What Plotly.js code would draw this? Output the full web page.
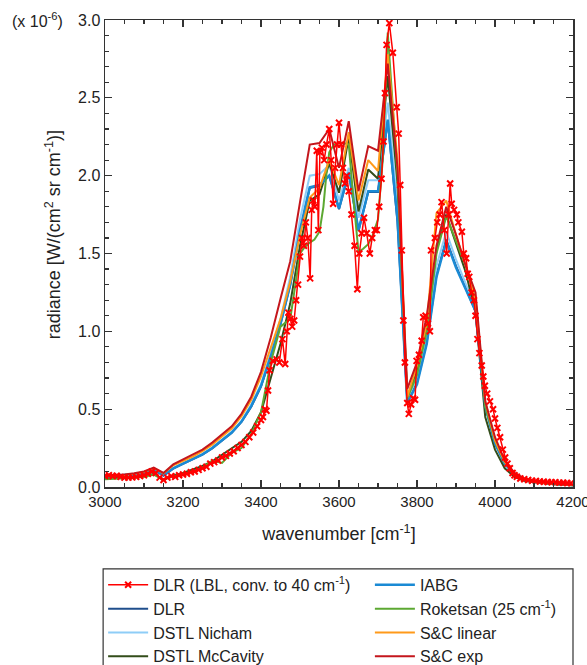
<!DOCTYPE html>
<html>
<head>
<meta charset="utf-8">
<script src="https://cdn.plot.ly/plotly-3.0.1.min.js"></script>
<style>html,body{margin:0;padding:0;background:#fff;}#chart{width:587px;height:665px;}</style>
</head>
<body>
<div id="chart"></div>
<script>
// wavenumber grid of the model spectra (cm-1)
const modelX = [3000,3025,3050,3075,3100,3125,3150,3175,3200,3225,3250,3275,3300,3325,3350,3375,3400,3425,3450,3475,3500,3525,3550,3575,3600,3625,3650,3675,3700,3725,3750,3775,3800,3825,3850,3875,3900,3925,3950,3975,4000,4025,4050,4075,4100,4125,4150,4175,4200];

// radiance values in units of 1e-6 W/(cm2 sr cm-1)
const dlr = [0.068,0.070,0.073,0.078,0.088,0.112,0.072,0.118,0.148,0.178,0.208,0.248,0.298,0.348,0.418,0.515,0.645,0.835,1.045,1.30,1.64,1.92,1.935,2.0,1.785,2.015,1.645,1.895,1.895,2.35,1.70,0.55,0.67,0.93,1.36,1.59,1.42,1.28,1.13,0.52,0.28,0.15,0.08,0.05,0.035,0.027,0.02,0.016,0.013];
const dstlNicham = [0.072,0.074,0.077,0.082,0.092,0.117,0.077,0.122,0.152,0.183,0.213,0.253,0.305,0.355,0.425,0.53,0.66,0.86,1.08,1.35,1.72,2.00,2.01,2.07,1.84,2.05,1.73,1.97,1.97,2.47,1.80,0.56,0.70,0.97,1.42,1.64,1.46,1.31,1.15,0.53,0.29,0.155,0.082,0.05,0.036,0.027,0.02,0.016,0.013];
const dstlMcCavity = [0.055,0.057,0.058,0.062,0.068,0.085,0.048,0.075,0.090,0.110,0.135,0.165,0.205,0.245,0.29,0.36,0.48,0.70,0.92,1.18,1.55,1.84,1.88,2.08,1.89,2.25,1.77,2.04,1.98,2.64,1.95,0.58,0.74,1.03,1.52,1.75,1.56,1.38,1.12,0.45,0.24,0.12,0.065,0.04,0.03,0.022,0.018,0.015,0.012];
const iabg = [0.070,0.072,0.075,0.080,0.090,0.115,0.075,0.120,0.150,0.180,0.210,0.250,0.300,0.350,0.420,0.52,0.65,0.84,1.05,1.30,1.65,1.925,1.94,2.0,1.79,2.02,1.65,1.90,1.90,2.36,1.72,0.54,0.66,0.92,1.35,1.58,1.41,1.27,1.13,0.52,0.28,0.15,0.08,0.05,0.035,0.027,0.02,0.016,0.013];
const scLinear = [0.072,0.075,0.077,0.085,0.097,0.122,0.088,0.140,0.168,0.195,0.230,0.272,0.325,0.375,0.455,0.56,0.71,0.89,1.08,1.32,1.62,1.86,1.92,2.10,1.94,2.28,1.84,2.10,2.03,2.78,2.10,0.58,0.78,1.05,1.76,1.84,1.62,1.42,1.20,0.55,0.30,0.16,0.085,0.052,0.037,0.028,0.021,0.017,0.014];
const scExp = [0.075,0.078,0.080,0.088,0.100,0.125,0.090,0.145,0.175,0.205,0.240,0.285,0.335,0.390,0.470,0.58,0.74,0.96,1.21,1.45,1.83,2.20,2.21,2.30,2.05,2.35,1.90,2.19,2.16,2.72,2.05,0.63,0.80,1.10,1.55,1.80,1.62,1.42,1.25,0.55,0.32,0.17,0.09,0.055,0.04,0.03,0.022,0.018,0.015];

// Roketsan (25 cm-1 resolution)
const roketsanX = [3000,3025,3050,3075,3100,3125,3150,3175,3200,3225,3250,3275,3300,3325,3350,3375,3400,3425,3450,3475,3500,3512,3525,3537,3550,3560,3568,3575,3587,3600,3612,3625,3637,3650,3662,3675,3687,3700,3712,3725,3750,3775,3800,3825,3850,3875,3900,3925,3950,3975,4000,4025,4050,4075,4100,4125,4150,4175,4200];
const roketsan = [0.050,0.052,0.055,0.060,0.065,0.080,0.045,0.070,0.085,0.100,0.125,0.170,0.155,0.220,0.250,0.34,0.48,0.80,1.03,1.08,1.50,1.54,1.57,1.59,1.64,1.80,2.02,2.15,2.20,2.21,2.21,2.20,1.85,1.51,1.53,1.56,1.62,1.72,2.10,2.92,2.00,0.57,0.72,1.00,1.50,1.74,1.58,1.42,1.20,0.52,0.30,0.16,0.085,0.05,0.035,0.025,0.02,0.015,0.012];

// DLR line-by-line, convolved to 40 cm-1
const lblX = [3000,3010,3020,3030,3040,3050,3060,3070,3080,3090,3100,3110,3120,3130,3140,3150,3160,3170,3180,3190,3200,3210,3220,3230,3240,3250,3260,3270,3280,3290,3300,3310,3320,3330,3340,3350,3360,3370,3380,3390,3400,3405,3410,3414,3418,3422,3430,3440,3447,3455,3462,3466,3470,3475,3480,3485,3490,3495,3500,3505,3510,3515,3520,3526,3530,3534,3538,3543,3547,3551,3556,3562,3568,3575,3580,3585,3590,3595,3600,3605,3610,3615,3620,3625,3632,3640,3647,3652,3658,3664,3671,3679,3685,3692,3697,3703,3709,3714,3718,3722,3729,3738,3748,3753,3757,3761,3765,3769,3775,3779,3785,3790,3795,3799,3805,3812,3816,3822,3828,3833,3836,3846,3852,3858,3863,3870,3876,3881,3885,3889,3895,3902,3906,3915,3920,3926,3930,3934,3940,3946,3950,3955,3960,3966,3970,3974,3980,3987,3995,4000,4006,4013,4020,4026,4032,4038,4045,4050,4056,4065,4075,4085,4095,4105,4115,4125,4135,4145,4155,4165,4175,4185,4195];
const lbl = [0.070,0.075,0.070,0.072,0.065,0.060,0.060,0.062,0.065,0.070,0.075,0.085,0.100,0.090,0.060,0.045,0.060,0.070,0.065,0.075,0.080,0.085,0.095,0.100,0.110,0.120,0.130,0.150,0.160,0.170,0.190,0.200,0.215,0.230,0.250,0.270,0.290,0.320,0.350,0.390,0.430,0.450,0.500,0.490,0.620,0.750,0.810,0.820,0.800,0.950,0.790,1.000,1.120,1.080,1.030,1.070,1.200,1.300,1.480,1.600,1.550,1.700,1.600,1.340,1.780,1.840,1.800,2.160,1.650,2.150,2.180,2.100,2.200,2.300,2.100,1.820,2.050,2.200,2.340,2.200,2.050,1.950,2.000,1.900,1.750,1.550,1.270,1.500,1.630,1.730,1.630,1.500,1.600,1.650,1.650,1.800,1.980,2.220,2.530,2.840,2.980,2.790,2.440,2.270,1.940,1.520,1.070,0.800,0.540,0.470,0.530,0.570,0.560,0.810,0.850,0.940,1.090,1.100,1.050,1.000,1.520,1.600,1.700,1.750,1.830,1.650,1.500,1.750,1.950,1.820,1.780,1.750,1.700,1.640,1.500,1.470,1.370,1.350,1.250,1.200,1.100,0.950,0.860,0.780,0.710,0.650,0.600,0.550,0.500,0.440,0.380,0.320,0.240,0.190,0.150,0.120,0.090,0.075,0.066,0.055,0.050,0.045,0.040,0.038,0.035,0.034,0.032,0.030,0.030,0.028,0.027,0.026,0.025];

const names = ['DLR (LBL, conv. to 40 cm<sup>-1</sup>)','DLR','DSTL Nicham','DSTL McCavity','IABG','Roketsan (25 cm<sup>-1</sup>)','S&C linear','S&C exp'];
const colors = ['#ff0000','#1f4e8c','#8ecdf7','#334d1a','#1a8ad4','#5ca832','#ff9a1a','#c4161c'];

function line(x, y, i, leg, rank, w) {
  return {x: x, y: y, type: 'scatter', mode: 'lines', name: names[i],
    line: {color: colors[i], width: w || 2}, legend: leg, legendrank: rank};
}
const traces = [
  line(modelX, dlr, 1, 'legend', 2),
  line(modelX, dstlNicham, 2, 'legend', 3),
  line(modelX, dstlMcCavity, 3, 'legend', 4),
  line(modelX, iabg, 4, 'legend2', 1, 2.5),
  line(roketsanX, roketsan, 5, 'legend2', 2),
  line(modelX, scLinear, 6, 'legend2', 3),
  line(modelX, scExp, 7, 'legend2', 4),
  {x: lblX, y: lbl, type: 'scatter', mode: 'lines+markers', name: names[0],
   line: {color: colors[0], width: 1.5},
   marker: {symbol: 'x-thin', size: 6, color: colors[0], line: {color: colors[0], width: 2}},
   legend: 'legend', legendrank: 1}
];

const FONT = 'Liberation Sans, Arial, sans-serif';
const axisCommon = {
  showline: true, linecolor: '#333', linewidth: 1.5, mirror: 'allticks',
  ticks: 'inside', ticklen: 7, tickwidth: 1.2, tickcolor: '#333',
  showgrid: false, zeroline: false, ticklabeloverflow: 'allow'
};

const legendCommon = {
  orientation: 'v', yanchor: 'top', xanchor: 'left', y: -0.1733,
  bgcolor: 'rgba(0,0,0,0)', borderwidth: 0, itemwidth: 40,
  font: {family: FONT, size: 16, color: '#222'}, traceorder: 'normal'
};

const layout = {
  width: 587, height: 665,
  margin: {l: 105, r: 14, t: 20, b: 178, autoexpand: false},
  paper_bgcolor: '#fff', plot_bgcolor: '#fff',
  font: {family: FONT, color: '#222'},
  showlegend: true,
  xaxis: Object.assign({}, axisCommon, {
    range: [3000, 4200], dtick: 200, tick0: 3000,
    tickfont: {family: FONT, size: 15, color: '#222'},
    minor: {dtick: 50, ticks: 'inside', ticklen: 4, tickcolor: '#333'},
    title: {text: 'wavenumber [cm<sup>-1</sup>]', font: {family: FONT, size: 18, color: '#222'}, standoff: 19}
  }),
  yaxis: Object.assign({}, axisCommon, {
    range: [0, 3.0], dtick: 0.5, tick0: 0, tickformat: '.1f',
    tickfont: {family: FONT, size: 16, color: '#222'},
    minor: {dtick: 0.1, ticks: 'inside', ticklen: 4, tickcolor: '#333'}
  }),
  legend: Object.assign({}, legendCommon, {x: -0.004}),
  legend2: Object.assign({}, legendCommon, {x: 0.566}),
  shapes: [{
    type: 'rect', xref: 'paper', yref: 'paper', layer: 'above',
    x0: -0.004, x1: 1.0, y0: -0.1754, y1: -0.40,
    line: {color: '#333', width: 1.2}, fillcolor: 'rgba(0,0,0,0)'
  }],
  annotations: [
    {text: '(x 10<sup>-6</sup>)', xref: 'paper', yref: 'paper',
     x: -0.203, y: 0.999, xanchor: 'left', yanchor: 'middle', showarrow: false,
     font: {family: FONT, size: 16, color: '#222'}},
    {text: 'radiance [W/(cm<sup>2</sup> sr cm<sup>-1</sup>)]', xref: 'paper', yref: 'paper',
     x: -0.111, y: 0.539, xanchor: 'center', yanchor: 'middle', textangle: -90, showarrow: false,
     font: {family: FONT, size: 18, color: '#222'}}
  ]
};

Plotly.newPlot('chart', traces, layout, {displayModeBar: false, staticPlot: true});
</script>
</body>
</html>
